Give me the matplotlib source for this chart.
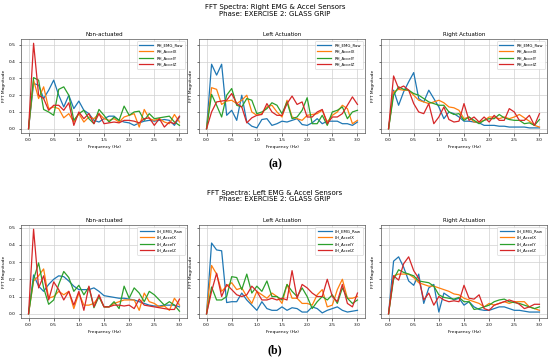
import numpy as np
import matplotlib
matplotlib.use('Agg')
from matplotlib import pyplot as plt

# frequency axis (Hz)
freq = [round(0.1 * i, 1) for i in range(31)]

sensors = ['EMG_Raw', 'AccelX', 'AccelY', 'AccelZ']
phases = ['Non-actuated', 'Left Actuation', 'Right Actuation']
colors = ['#1f77b4', '#ff7f0e', '#2ca02c', '#d62728']

# ---- (a) right side sensors ----
rh_non_emg = [0, .27, .26, .18, .23, .29, .20, .13, .20, .12, .165, .11, .09, .05, .04, .06, .075, .075, .05, .04, .035, .02, .035, .045, .05, .045, .05, .055, .05, .02, .07]
rh_non_ax = [0, .29, .18, .25, .12, .13, .12, .065, .09, .04, .09, .04, .07, .06, .09, .06, .05, .06, .04, .07, .08, .09, .01, .115, .06, .05, .06, .04, .03, .085, .04]
rh_non_ay = [0, .305, .29, .115, .10, .08, .235, .25, .20, .05, .09, .11, .06, .03, .115, .08, .04, .07, .05, .135, .08, .10, .105, .05, .09, .06, .065, .07, .075, .04, .02]
rh_non_az = [0, .51, .20, .18, .11, .14, .14, .11, .155, .02, .10, .06, .09, .03, .09, .03, .035, .04, .035, .05, .05, .045, .035, .06, .065, .02, .06, .01, .04, .03, .075]

rh_left_emg = [0, .385, .32, .385, .08, .11, .05, .20, .04, .015, .005, .055, .06, .02, .03, .045, .04, .05, .06, .025, .02, .035, .06, .03, .045, .045, .045, .03, .03, .02, .04]
rh_left_ax = [0, .245, .235, .145, .165, .17, .15, .17, .20, .10, .08, .09, .13, .14, .10, .07, .17, .07, .06, .05, .08, .085, .09, .11, .04, .08, .10, .14, .12, .03, .05]
rh_left_ay = [0, .205, .14, .07, .20, .24, .14, .13, .18, .17, .09, .10, .12, .155, .14, .09, .16, .06, .07, .11, .185, .03, .03, .08, .02, .10, .11, .13, .06, .10, .11]
rh_left_az = [0, .10, .16, .165, .17, .21, .15, .13, .035, .065, .08, .085, .15, .10, .08, .08, .15, .195, .145, .16, .07, .07, .10, .115, .03, .07, .07, .09, .14, .19, .145]

rh_right_emg = [0, .23, .14, .22, .28, .335, .18, .16, .23, .18, .13, .06, .10, .09, .07, .045, .045, .04, .035, .02, .02, .02, .015, .015, .01, .01, .01, .01, .005, .005, .005]
rh_right_ax = [0, .22, .235, .23, .23, .20, .17, .16, .15, .16, .17, .155, .13, .125, .11, .06, .07, .04, .04, .05, .07, .07, .06, .07, .06, .07, .085, .065, .045, .02, .01]
rh_right_ay = [0, .20, .25, .235, .23, .21, .20, .18, .16, .15, .14, .14, .10, .085, .09, .05, .07, .05, .03, .05, .06, .06, .085, .065, .055, .05, .05, .03, .035, .02, .055]
rh_right_az = [0, .315, .24, .255, .23, .15, .10, .09, .15, .03, .07, .13, .055, .04, .045, .15, .05, .07, .04, .07, .04, .08, .05, .05, .12, .10, .05, .05, .08, .02, .09]

# ---- (b) left side sensors ----
lh_non_emg = [0, .225, .16, .13, .17, .20, .22, .215, .19, .16, .14, .14, .14, .15, .13, .105, .10, .095, .09, .09, .085, .08, .07, .06, .05, .045, .045, .05, .05, .05, .04]
lh_non_ax = [0, .19, .22, .26, .09, .10, .13, .11, .13, .03, .12, .05, .05, .06, .10, .04, .04, .06, .07, .08, .08, .08, .02, .12, .07, .06, .04, .045, .02, .09, .05]
lh_non_ay = [0, .20, .295, .15, .055, .08, .17, .245, .21, .13, .165, .11, .155, .035, .10, .04, .04, .07, .03, .16, .09, .15, .12, .07, .13, .11, .08, .05, .07, .05, .015]
lh_non_az = [0, .49, .15, .22, .08, .185, .14, .08, .13, .05, .13, .02, .16, .04, .11, .04, .04, .05, .05, .045, .05, .03, .085, .05, .045, .04, .035, .03, .025, .025, .085]

lh_left_emg = [0, .41, .37, .365, .065, .07, .07, .12, .08, .05, .02, .07, .03, .02, .02, .04, .02, .035, .03, .01, .01, .04, .03, .005, .02, .03, .04, .02, .01, .015, .02]
lh_left_ax = [0, .28, .23, .13, .16, .18, .14, .15, .10, .06, .13, .11, .09, .12, .10, .06, .17, .09, .09, .06, .06, .05, .11, .14, .04, .05, .14, .20, .09, .09, .10]
lh_left_ay = [0, .155, .08, .08, .10, .215, .21, .14, .23, .12, .16, .13, .19, .10, .10, .08, .17, .13, .10, .15, .10, .03, .07, .10, .08, .11, .06, .15, .09, .06, .08]
lh_left_az = [0, .13, .235, .10, .17, .14, .11, .10, .11, .16, .13, .08, .08, .09, .08, .09, .08, .25, .09, .17, .15, .12, .10, .10, .20, .10, .07, .17, .06, .04, .12]

lh_right_emg = [0, .305, .33, .27, .19, .165, .23, .06, .15, .17, .01, .12, .10, .08, .09, .05, .07, .04, .025, .02, .02, .03, .04, .04, .03, .02, .02, .015, .01, .01, .01]
lh_right_ax = [0, .22, .23, .23, .23, .21, .18, .17, .16, .16, .15, .14, .13, .115, .11, .09, .08, .07, .06, .04, .06, .05, .06, .07, .06, .07, .07, .07, .04, .03, .02]
lh_right_ay = [0, .20, .255, .24, .23, .22, .19, .185, .18, .16, .11, .095, .09, .085, .095, .07, .07, .025, .03, .04, .05, .07, .08, .085, .07, .065, .06, .05, .04, .03, .04]
lh_right_az = [0, .22, .195, .29, .33, .25, .205, .08, .12, .05, .10, .08, .07, .075, .07, .165, .09, .085, .11, .03, .02, .05, .06, .07, .08, .07, .055, .03, .04, .055, .055]

rh_data = [[rh_non_emg, rh_non_ax, rh_non_ay, rh_non_az],
           [rh_left_emg, rh_left_ax, rh_left_ay, rh_left_az],
           [rh_right_emg, rh_right_ax, rh_right_ay, rh_right_az]]
lh_data = [[lh_non_emg, lh_non_ax, lh_non_ay, lh_non_az],
           [lh_left_emg, lh_left_ax, lh_left_ay, lh_left_az],
           [lh_right_emg, lh_right_ax, lh_right_ay, lh_right_az]]

W, H = 550, 360
fig = plt.figure(figsize=(5.5, 3.6), dpi=100)

lefts = [21, 199, 381]
width = 166


def draw_row(data, prefix, side, top_px, bottom_px, title_px, letter, letter_px):
    axes = []
    for k in range(3):
        l = lefts[k] / W
        b = 1 - bottom_px / H
        h = (bottom_px - top_px) / H
        if k == 0:
            ax = fig.add_axes([l, b, width / W, h])
        else:
            ax = fig.add_axes([l, b, width / W, h], sharey=axes[0])
            plt.setp(ax.get_yticklabels(), visible=False)
        for s in range(4):
            ax.plot(freq, data[k][s], color=colors[s], lw=0.9,
                    label=prefix + '_' + sensors[s])
        ax.set_title(phases[k], fontsize=4, pad=2.5)
        ax.set_xlabel('Frequency (Hz)', fontsize=3.2, labelpad=2)
        ax.set_ylabel('FFT Magnitude', fontsize=3.2, labelpad=2.5)
        ax.set_xticks([0, 0.5, 1.0, 1.5, 2.0, 2.5, 3.0])
        ax.set_yticks([0, 0.1, 0.2, 0.3, 0.4, 0.5])
        ax.tick_params(labelsize=3.2, length=1.8, width=0.4, pad=1.8)
        ax.grid(True, color='#d0d0d0', lw=0.5)
        for sp in ax.spines.values():
            sp.set_linewidth(0.5)
            sp.set_color('#555555')
        ax.legend(loc='upper right', fontsize=2.8, handlelength=3.6,
                  borderpad=0.6, labelspacing=0.6, framealpha=0.9,
                  edgecolor='#cccccc', fancybox=True).get_frame().set_linewidth(0.4)
        axes.append(ax)
    fig.text(0.5, 1 - title_px / H,
             'FFT Spectra: ' + side + ' EMG & Accel Sensors\nPhase: EXERCISE 2: GLASS GRIP',
             ha='center', va='top', fontsize=5, linespacing=1.0)
    fig.text(0.5, 1 - letter_px / H, letter, ha='center', va='center',
             fontsize=8.5, family='Liberation Serif', weight='bold')


draw_row(rh_data, 'RH', 'Right', 39, 133, 4.5, '(a)', 164)
draw_row(lh_data, 'LH', 'Left', 225, 318, 190, '(b)', 350)

fig.savefig('out.png', dpi=100, facecolor='white')
